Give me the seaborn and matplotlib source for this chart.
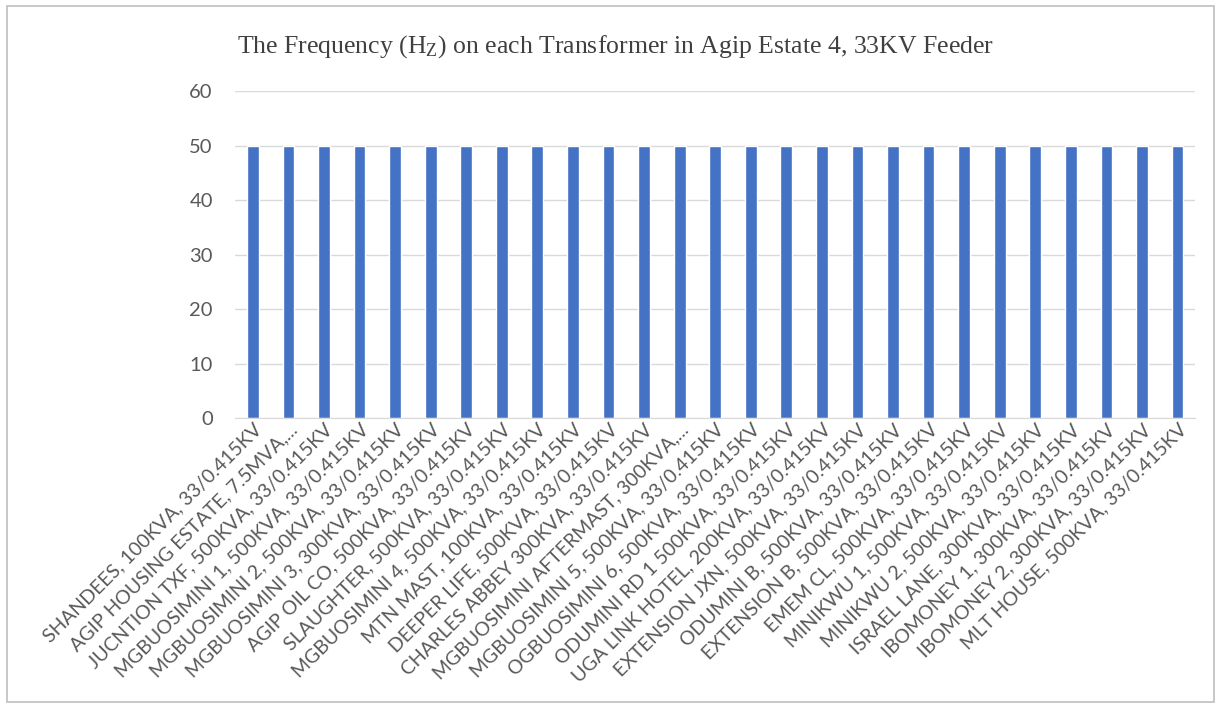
import matplotlib
matplotlib.use("Agg")
import matplotlib.pyplot as plt
import seaborn as sns
import pandas as pd
from matplotlib.patches import Rectangle

# Transformer names and measured frequency
transformers = [
    "SHANDEES, 100KVA, 33/0.415KV",
    "AGIP HOUSING ESTATE, 7.5MVA,...",
    "JUCNTION TXF, 500KVA, 33/0.415KV",
    "MGBUOSIMINI 1, 500KVA, 33/0.415KV",
    "MGBUOSIMINI 2, 500KVA, 33/0.415KV",
    "MGBUOSIMINI 3, 300KVA, 33/0.415KV",
    "AGIP OIL CO, 500KVA, 33/0.415KV",
    "SLAUGHTER, 500KVA, 33/0.415KV",
    "MGBUOSIMINI 4, 500KVA, 33/0.415KV",
    "MTN MAST, 100KVA, 33/0.415KV",
    "DEEPER LIFE, 500KVA, 33/0.415KV",
    "CHARLES ABBEY 300KVA, 33/0.415KV",
    "MGBUOSIMINI AFTERMAST, 300KVA,...",
    "MGBUOSIMINI 5, 500KVA, 33/0.415KV",
    "OGBUOSIMINI 6, 500KVA, 33/0.415KV",
    "ODUMINI RD 1 500KVA, 33/0.415KV",
    "UGA LINK HOTEL, 200KVA, 33/0.415KV",
    "EXTENSION JXN, 500KVA, 33/0.415KV",
    "ODUMINI B, 500KVA, 33/0.415KV",
    "EXTENSION B, 500KVA, 33/0.415KV",
    "EMEM CL, 500KVA, 33/0.415KV",
    "MINIKWU 1, 500KVA, 33/0.415KV",
    "MINIKWU 2, 500KVA, 33/0.415KV",
    "ISRAEL LANE, 300KVA, 33/0.415KV",
    "IBOMONEY 1, 300KVA, 33/0.415KV",
    "IBOMONEY 2, 300KVA, 33/0.415KV",
    "MLT HOUSE, 500KVA, 33/0.415KV",
]
frequency = [50] * len(transformers)
yticks = [0, 10, 20, 30, 40, 50, 60]

df = pd.DataFrame({"transformer": transformers, "freq": frequency})

sns.set_style("white")
plt.rcParams["font.family"] = ["Lato", "DejaVu Sans"]

fig = plt.figure(figsize=(12.21, 7.11), dpi=100)
ax = fig.add_axes([0.1925, 0.412, 0.7865, 0.46])

sns.barplot(data=df, x="transformer", y="freq", color="#4472C4",
            saturation=1, width=0.33, ax=ax)

ax.set_ylim(0, 60)
ax.set_xlim(-0.5, len(transformers) - 0.5)
ax.set_yticks(yticks)
ax.yaxis.grid(True, color="#D9D9D9", linewidth=1)
ax.set_axisbelow(True)
for s in ["top", "right", "left"]:
    ax.spines[s].set_visible(False)
ax.spines["bottom"].set_color("#D9D9D9")
ax.set_xlabel("")
ax.set_ylabel("")
ax.tick_params(axis="y", labelsize=14.5, colors="#595959", length=0, pad=16)
ax.tick_params(axis="x", labelsize=14, colors="#595959", length=0, pad=2)
plt.setp(ax.get_xticklabels(), rotation=45, ha="right", rotation_mode="anchor")

fig.text(0.504, 0.934,
         r"The Frequency (H$\mathregular{_Z}$) on each Transformer in Agip Estate 4, 33KV Feeder",
         ha="center", va="center", fontsize=18.5, color="#404040",
         family=["Liberation Serif", "DejaVu Serif"])

fig.patches.append(Rectangle((0.006, 0.012), 0.988, 0.98, transform=fig.transFigure,
                             fill=False, edgecolor="#BFBFBF", linewidth=1.2))

fig.savefig("out.png", dpi=100)
